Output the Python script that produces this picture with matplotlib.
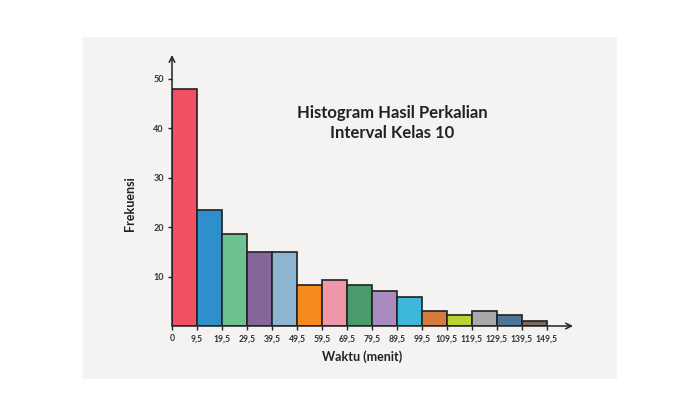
import matplotlib
matplotlib.use("Agg")
import matplotlib.pyplot as plt
from matplotlib.patches import Rectangle

# bin edges (as printed) and frequency per class
edge_labels = ["0", "9,5", "19,5", "29,5", "39,5", "49,5", "59,5", "69,5",
               "79,5", "89,5", "99,5", "109,5", "119,5", "129,5", "139,5", "149,5"]
frekuensi = [48, 23.5, 18.7, 15, 15, 8.2, 9.4, 8.2, 7, 5.8, 3, 2.3, 3, 2.3, 1.1]
bar_colors = ["#ef5163", "#2e8fca", "#6cc38f", "#87669b", "#8db5d1",
              "#f58a21", "#ef96aa", "#4a9a6b", "#a98cbd", "#3eb8da",
              "#d67b3d", "#b7d336", "#a8a9ab", "#4e7497", "#7a6a5e"]
y_ticks = [10, 20, 30, 40, 50]

plt.rcParams['font.family'] = ['Lato', 'DejaVu Sans']

fig = plt.figure(figsize=(7, 3.93), dpi=100)
fig.patch.set_facecolor('white')

# light grey card behind the chart
W, H = 700, 393
card = Rectangle((83 / W, 1 - 379 / H), (617 - 83) / W, (379 - 37) / H,
                 transform=fig.transFigure, facecolor='#f4f3f2',
                 edgecolor='none', zorder=-5)
fig.patches.append(card)

ax = fig.add_axes([172 / W, 1 - 326 / H, (573 - 172) / W, (326 - 55) / H])
ax.set_zorder(2)
ax.set_facecolor('none')
ax.set_xlim(0, 16.04)
ax.set_ylim(0, 54.85)

x = list(range(len(frekuensi)))
ax.bar(x, frekuensi, width=1.0, align='edge', color=bar_colors,
       edgecolor='#222222', linewidth=1.2, zorder=2)

for s in ax.spines.values():
    s.set_visible(False)

# axes drawn as arrows
ax.annotate('', xy=(1, 0), xytext=(0, 0), xycoords='axes fraction',
            arrowprops=dict(arrowstyle='->', lw=1.1, color='#222222',
                            shrinkA=0, shrinkB=0), zorder=3)
ax.annotate('', xy=(0, 1), xytext=(0, 0), xycoords='axes fraction',
            arrowprops=dict(arrowstyle='->', lw=1.1, color='#222222',
                            shrinkA=0, shrinkB=0), zorder=3)

ax.set_xticks(range(len(edge_labels)))
ax.set_xticklabels(edge_labels)
ax.set_yticks(y_ticks)
ax.set_yticklabels([str(v) for v in y_ticks])
ax.tick_params(axis='x', length=3, width=1, color='#222222', pad=3,
               labelsize=6.2, labelcolor='#333333')
ax.tick_params(axis='y', length=3, width=1, color='#222222', pad=3,
               labelsize=6.5, labelcolor='#333333')
for lab in ax.get_xticklabels() + ax.get_yticklabels():
    lab.set_fontweight('bold')

fig.text(130 / W, 1 - 204 / H, 'Frekuensi', rotation=90, ha='center', va='center',
         fontsize=9, fontweight='bold', color='#222222')
fig.text(362 / W, 1 - 357 / H, 'Waktu (menit)', ha='center', va='center',
         fontsize=9, fontweight='bold', color='#222222')
fig.text(392 / W, 1 - 123 / H, 'Histogram Hasil Perkalian\nInterval Kelas 10',
         ha='center', va='center', fontsize=12, fontweight='bold',
         color='#222222', linespacing=1.3)

fig.savefig('out.png', dpi=100, facecolor='white')
